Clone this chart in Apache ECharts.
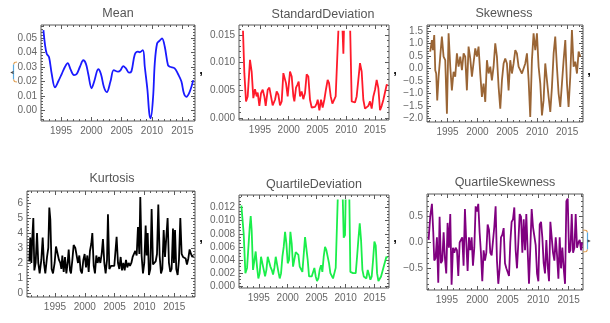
<!DOCTYPE html>
<html><head><meta charset="utf-8">
<script src="https://cdn.jsdelivr.net/npm/echarts@6/dist/echarts.min.js"></script>
<style>html,body{margin:0;padding:0;background:#fff}#c{width:610px;height:323px}</style>
</head><body><div id="c"></div>
<script>
// ---------------- DATA ----------------
const yearTicks = [1995, 2000, 2005, 2010, 2015];

const meanYears = [1992.10,1992.37,1992.64,1993.03,1993.47,1994.01,1994.56,1995.11,1995.66,1996.10,1996.59,1997.14,1997.58,1998.12,1998.67,1999.11,1999.49,2000.04,2000.48,2001.14,2001.58,2002.07,2002.55,2003.16,2003.70,2004.40,2004.80,2005.25,2005.68,2006.23,2006.62,2007.16,2007.65,2007.99,2008.50,2008.81,2009.25,2009.55,2009.78,2010.18,2010.45,2010.84,2011.27,2011.65,2012.10,2012.64,2012.95,2013.74,2014.29,2014.84,2015.27,2015.66,2016.21,2016.80];
const meanValues = [0.0553,0.0450,0.0390,0.0365,0.0250,0.0158,0.0200,0.0250,0.0300,0.0325,0.0280,0.0243,0.0250,0.0300,0.0345,0.0320,0.0250,0.0152,0.0200,0.0283,0.0250,0.0160,0.0125,0.0200,0.0277,0.0266,0.0275,0.0305,0.0290,0.0259,0.0270,0.0385,0.0405,0.0400,0.0415,0.0300,0.0140,-0.0020,-0.0055,0.0090,0.0320,0.0460,0.0480,0.0496,0.0440,0.0310,0.0300,0.0289,0.0250,0.0200,0.0115,0.0093,0.0127,0.0208];

const sdYears = [1992.00,1992.29,1992.58,1992.87,1993.27,1993.56,1993.85,1994.14,1994.43,1994.61,1994.90,1995.19,1995.48,1995.77,1996.00,1996.35,1996.64,1996.92,1997.21,1997.62,1997.91,1998.20,1998.49,1998.78,1999.07,1999.36,1999.53,1999.82,2000.23,2000.52,2000.81,2000.98,2001.27,2001.50,2001.73,2001.97,2002.25,2002.54,2002.83,2003.12,2003.41,2003.70,2003.99,2004.28,2004.57,2004.86,2005.04,2005.33,2005.62,2005.90,2006.19,2006.48,2006.77,2007.01,2007.30,2007.59,2007.87,2008.16,2008.40,2008.80,2009.21,2009.50,2009.70,2010.25,2010.60,2010.95,2011.24,2011.52,2011.81,2012.10,2012.39,2012.68,2012.97,2013.26,2013.55,2013.84,2014.13,2014.42,2014.71,2015.00,2015.29,2015.58,2015.87,2016.16,2016.45,2016.74,2017.03,2017.20];
const sdValues = [0.0175,0.0081,0.0030,0.0039,0.0105,0.0084,0.0036,0.0052,0.0039,0.0046,0.0022,0.0045,0.0051,0.0039,0.0022,0.0051,0.0055,0.0039,0.0023,0.0033,0.0048,0.0042,0.0023,0.0030,0.0081,0.0079,0.0063,0.0039,0.0084,0.0075,0.0039,0.0030,0.0055,0.0060,0.0066,0.0039,0.0048,0.0034,0.0045,0.0079,0.0075,0.0033,0.0019,0.0020,0.0020,0.0026,0.0033,0.0014,0.0033,0.0019,0.0033,0.0052,0.0069,0.0063,0.0039,0.0026,0.0023,0.0039,0.0039,0.0200,0.0200,0.0116,0.0200,0.0200,0.0200,0.0030,0.0030,0.0028,0.0039,0.0069,0.0099,0.0084,0.0033,0.0017,0.0017,0.0022,0.0030,0.0017,0.0039,0.0051,0.0069,0.0054,0.0014,0.0022,0.0033,0.0036,0.0060,0.0060];

const skewYears = [1992.11,1992.39,1992.56,1992.78,1992.95,1993.11,1993.28,1993.51,1993.78,1994.06,1994.34,1994.62,1994.90,1995.18,1995.46,1995.73,1996.01,1996.29,1996.57,1996.85,1997.13,1997.41,1997.69,1997.96,1998.24,1998.52,1998.80,1999.08,1999.36,1999.64,1999.92,2000.19,2000.47,2000.75,2001.03,2001.31,2001.59,2001.87,2002.15,2002.42,2002.70,2002.98,2003.26,2003.54,2003.82,2004.10,2004.38,2004.65,2004.93,2005.21,2005.49,2005.77,2006.05,2006.33,2006.60,2006.88,2007.16,2007.44,2007.72,2008.00,2008.28,2008.56,2008.83,2009.11,2009.39,2009.67,2009.95,2010.23,2010.51,2010.79,2011.06,2011.34,2011.62,2011.90,2012.18,2012.46,2012.74,2013.01,2013.29,2013.57,2013.85,2014.13,2014.41,2014.69,2014.97,2015.24,2015.52,2015.80,2016.08,2016.36,2016.64,2016.92,2017.20];
const skewValues = [0.67,1.13,0.73,1.33,-0.07,-0.20,-1.27,-0.33,0.47,1.27,0.47,0.33,-1.80,1.40,0.07,-0.87,-0.13,-0.33,0.60,0.07,0.47,-0.07,0.60,0.47,-0.87,0.87,0.40,-0.33,-0.33,0.80,0.47,0.87,-0.20,-1.13,-0.60,-1.33,0.33,-0.20,0.07,-0.47,0.07,1.00,0.47,-0.73,-1.60,-0.47,0.20,0.40,0.20,-0.87,0.33,-0.20,0.20,0.73,0.60,0.07,0.13,-0.20,-0.13,0.20,0.60,-0.47,-1.93,0.33,1.40,0.73,1.40,0.07,-0.60,-1.87,-1.27,0.20,0.27,-1.13,-1.73,-0.73,0.60,1.27,0.07,-1.00,-1.53,-0.60,0.33,1.13,-0.60,-1.53,-0.33,1.53,0.07,0.27,-0.20,0.67,0.47];

const kurtYears = [1990.70,1990.86,1991.04,1991.20,1991.37,1991.54,1991.76,1991.99,1992.20,1992.43,1992.71,1992.94,1993.15,1993.38,1993.67,1993.88,1994.05,1994.22,1994.44,1994.67,1994.94,1995.17,1995.44,1995.67,1995.89,1996.07,1996.23,1996.46,1996.68,1996.91,1997.12,1997.30,1997.52,1997.68,1997.91,1998.13,1998.41,1998.63,1998.86,1999.08,1999.30,1999.52,1999.75,1999.97,2000.20,2000.42,2000.65,2000.86,2001.09,2001.26,2001.49,2001.70,2001.93,2002.15,2002.38,2002.60,2002.83,2003.04,2003.27,2003.49,2003.72,2003.88,2004.11,2004.39,2004.67,2004.94,2005.17,2005.33,2005.56,2005.78,2006.01,2006.23,2006.46,2006.68,2006.90,2007.12,2007.35,2007.57,2007.80,2008.02,2008.25,2008.46,2008.69,2008.91,2009.14,2009.30,2009.52,2009.75,2009.97,2010.20,2010.36,2010.54,2010.75,2010.98,2011.20,2011.43,2011.65,2011.88,2012.10,2012.32,2012.54,2012.77,2012.99,2013.22,2013.44,2013.66,2013.88,2014.10,2014.33,2014.55,2014.78,2014.94,2015.12,2015.33,2015.56,2015.78,2016.01,2016.23,2016.46,2016.68,2016.90,2017.12,2017.35,2017.57,2017.80,2018.02,2018.18];
const kurtValues = [2.1,3.7,2.0,3.7,5.0,1.5,2.0,4.0,2.0,1.3,2.2,3.7,2.0,1.3,2.4,3.0,5.7,4.9,1.6,1.3,2.0,3.1,3.0,2.2,2.0,1.6,2.5,1.4,2.4,1.3,2.0,2.9,1.5,1.3,2.2,3.2,3.0,2.5,2.0,2.5,1.5,1.3,2.2,2.6,1.7,2.5,1.4,2.8,3.3,4.0,1.8,1.3,2.5,2.0,2.4,2.0,2.6,3.6,2.0,1.3,2.2,5.25,1.6,1.8,1.7,1.8,1.7,3.75,2.0,1.6,2.4,1.5,2.0,1.5,2.2,1.7,2.0,1.8,2.0,2.4,2.3,2.8,2.5,4.4,2.6,6.4,2.5,1.3,2.0,4.5,2.5,4.0,1.2,1.6,5.6,1.9,2.0,2.1,2.6,5.9,2.5,1.3,1.6,4.2,2.4,2.5,5.0,2.0,1.4,1.6,4.3,2.0,4.2,1.6,1.2,2.2,5.0,2.6,2.4,2.5,2.3,1.9,2.3,2.9,2.6,2.4,2.5];

const qdYears = [1992.00,1992.40,1992.69,1992.98,1993.21,1993.44,1993.61,1993.78,1994.01,1994.24,1994.47,1994.70,1994.93,1995.16,1995.39,1995.62,1995.86,1996.09,1996.32,1996.55,1996.78,1997.01,1997.24,1997.47,1997.70,1997.93,1998.16,1998.39,1998.62,1998.85,1999.08,1999.31,1999.54,1999.77,2000.00,2000.23,2000.46,2000.69,2000.92,2001.15,2001.38,2001.61,2001.84,2002.07,2002.30,2002.53,2002.76,2002.99,2003.22,2003.45,2003.68,2003.91,2004.14,2004.37,2004.60,2004.83,2005.06,2005.29,2005.52,2005.75,2005.98,2006.21,2006.44,2006.67,2006.90,2007.13,2007.36,2007.59,2007.82,2008.05,2008.28,2008.51,2008.86,2009.32,2009.66,2009.89,2010.12,2010.53,2010.81,2011.04,2011.27,2011.51,2011.74,2011.97,2012.20,2012.43,2012.66,2012.89,2013.12,2013.35,2013.58,2013.81,2014.04,2014.27,2014.50,2014.73,2014.96,2015.19,2015.42,2015.65,2015.88,2016.11,2016.34,2016.57,2016.80,2017.03,2017.20];
const qdValues = [0.0123,0.0080,0.0020,0.0028,0.0030,0.0090,0.0107,0.0085,0.0025,0.0028,0.0053,0.0030,0.0012,0.0020,0.0045,0.0048,0.0025,0.0015,0.0025,0.0045,0.0048,0.0030,0.0025,0.0018,0.0028,0.0045,0.0042,0.0022,0.0012,0.0020,0.0045,0.0060,0.0083,0.0065,0.0035,0.0040,0.0083,0.0065,0.0030,0.0028,0.0052,0.0050,0.0048,0.0030,0.0028,0.0022,0.0025,0.0075,0.0075,0.0040,0.0015,0.0018,0.0015,0.0018,0.0028,0.0015,0.0008,0.0012,0.0025,0.0032,0.0022,0.0045,0.0060,0.0055,0.0055,0.0035,0.0020,0.0018,0.0012,0.0012,0.0028,0.0030,0.0200,0.0200,0.0074,0.0078,0.0200,0.0200,0.0022,0.0022,0.0020,0.0022,0.0020,0.0045,0.0072,0.0096,0.0070,0.0025,0.0015,0.0015,0.0012,0.0025,0.0028,0.0010,0.0015,0.0040,0.0068,0.0062,0.0020,0.0008,0.0008,0.0015,0.0018,0.0030,0.0033,0.0045,0.0043];

const qsYears = [1992.00,1992.27,1992.55,1992.77,1992.93,1993.15,1993.37,1993.59,1993.81,1994.03,1994.25,1994.47,1994.68,1994.90,1995.12,1995.34,1995.56,1995.78,1996.00,1996.22,1996.44,1996.66,1996.88,1997.10,1997.32,1997.53,1997.75,1997.97,1998.19,1998.41,1998.63,1998.85,1999.07,1999.29,1999.51,1999.73,1999.95,2000.16,2000.38,2000.60,2000.82,2001.04,2001.26,2001.48,2001.70,2001.92,2002.14,2002.36,2002.58,2002.79,2003.01,2003.23,2003.45,2003.67,2003.89,2004.11,2004.33,2004.55,2004.77,2004.99,2005.21,2005.42,2005.64,2005.86,2006.08,2006.30,2006.52,2006.74,2006.96,2007.18,2007.40,2007.62,2007.84,2008.05,2008.27,2008.49,2008.71,2008.93,2009.15,2009.37,2009.59,2009.81,2010.03,2010.25,2010.47,2010.68,2010.90,2011.12,2011.34,2011.56,2011.78,2012.00,2012.22,2012.44,2012.66,2012.88,2013.10,2013.32,2013.53,2013.75,2013.97,2014.19,2014.41,2014.63,2014.85,2015.07,2015.29,2015.51,2015.73,2015.95,2016.16,2016.38,2016.60,2016.82,2017.04,2017.21];
const qsValues = [0.05,0.50,0.75,0.20,-0.35,-0.30,0.10,-0.78,0.50,-0.40,-0.35,0.20,-0.30,-0.60,0.38,-0.10,0.55,-0.82,-0.10,-0.20,-0.10,-0.15,-0.65,0.00,0.00,0.10,-0.45,0.65,0.00,-0.55,0.10,-0.15,0.10,-0.45,-0.10,0.70,0.60,0.75,0.20,-0.20,-0.75,-0.15,-0.35,-0.20,0.35,0.25,-0.20,-0.25,-0.25,0.30,0.70,-0.35,-0.80,-0.50,0.10,0.15,0.28,-0.40,-0.50,-0.50,-0.65,0.00,0.40,0.45,0.68,-0.15,-0.50,0.00,0.55,0.50,-0.20,0.45,-0.15,0.55,-0.15,-0.80,-0.10,0.65,0.30,0.30,-0.05,-0.60,-0.75,0.35,0.40,0.10,-0.40,-0.60,0.05,-0.45,-0.75,0.40,0.40,-0.20,-0.35,0.10,-0.25,-0.70,0.10,-0.50,-0.10,-0.50,-0.80,0.80,0.85,-0.20,-0.15,0.55,-0.20,-0.10,0.55,-0.10,0.00,0.05,-0.15,0.00];

// ---------------- LAYOUT / STYLE ----------------
const FONT = '"Liberation Sans", Arial, sans-serif';
const FRAME = '#5a5a5a';
const LABEL = '#666666';
const grids = [], xAxes = [], yAxes = [], series = [], graphics = [];

function steps(min, max, step) {
  const out = [];
  for (let k = Math.ceil(min / step - 1e-9); k * step <= max + 1e-12; k++) out.push(+(k * step).toFixed(10));
  return out;
}
function notIn(a, b) { return a.filter(v => !b.some(w => Math.abs(w - v) < 1e-9)); }

function ax(gi, pos, min, max, ticks, len, fmt, isX) {
  return {
    type: 'value', gridIndex: gi, position: pos, min: min, max: max,
    axisLine: { show: false, onZero: false },
    axisTick: { show: true, inside: true, length: len, customValues: ticks, lineStyle: { color: FRAME, width: 1 } },
    axisLabel: fmt ? { show: true, customValues: ticks, formatter: fmt, color: LABEL, fontSize: 10, fontFamily: FONT, margin: isX ? 5 : 4 } : { show: false },
    splitLine: { show: false }, minorTick: { show: false }
  };
}

function addPanel(p) {
  const gi = grids.length;
  grids.push({ left: p.l, top: p.t, width: p.r - p.l, height: p.b - p.t, show: true, borderColor: FRAME, borderWidth: 1, backgroundColor: 'rgba(0,0,0,0)' });
  const xMaj = yearTicks.filter(v => v >= p.x[0] && v <= p.x[1]);
  const xMin = notIn(steps(p.x[0], p.x[1], 1), xMaj);
  const yMaj = steps(p.y[0], p.y[1], p.yStep);
  const yMin = notIn(steps(p.y[0], p.y[1], p.yMinor), yMaj);
  const xi = xAxes.length, yi = yAxes.length;
  xAxes.push(ax(gi, 'bottom', p.x[0], p.x[1], xMaj, 4, v => String(Math.round(v)), true));
  xAxes.push(ax(gi, 'bottom', p.x[0], p.x[1], xMin, 2, null, true));
  xAxes.push(ax(gi, 'top', p.x[0], p.x[1], xMaj, 4, null, true));
  xAxes.push(ax(gi, 'top', p.x[0], p.x[1], xMin, 2, null, true));
  yAxes.push(ax(gi, 'left', p.y[0], p.y[1], yMaj, 4, p.fmt, false));
  yAxes.push(ax(gi, 'left', p.y[0], p.y[1], yMin, 2, null, false));
  yAxes.push(ax(gi, 'right', p.y[0], p.y[1], yMaj, 4, null, false));
  yAxes.push(ax(gi, 'right', p.y[0], p.y[1], yMin, 2, null, false));
  let sx = xi, sy = yi;
  if (p.clip != null) {
    const h = p.b - p.t;
    const topPx = p.b - (p.clip - p.y[0]) / (p.y[1] - p.y[0]) * h;
    const dg = grids.length;
    grids.push({ left: p.l, top: topPx, width: p.r - p.l, height: p.b - topPx, show: false });
    xAxes.push({ type: 'value', gridIndex: dg, min: p.x[0], max: p.x[1], show: false, axisLine: { onZero: false } });
    yAxes.push({ type: 'value', gridIndex: dg, min: p.y[0], max: p.clip, show: false, axisLine: { onZero: false } });
    sx = xAxes.length - 1; sy = yAxes.length - 1;
  }
  series.push({
    type: 'line', xAxisIndex: sx, yAxisIndex: sy, clip: true,
    data: p.xs.map((x, i) => [x, p.ys[i]]),
    showSymbol: false, symbol: 'none', smooth: p.smooth || false,
    lineStyle: { color: p.color, width: 1.8 }, itemStyle: { color: p.color }
  });
  graphics.push({ type: 'text', x: p.tx, y: p.ty, style: { text: p.title, fill: '#555', font: '12.5px ' + FONT, align: 'center', verticalAlign: 'middle' } });
}

const fmtN = d => v => v.toFixed(d).replace('-', '\u2212');

addPanel({ l: 41, t: 25, r: 195, b: 121, x: [1991.70, 2017.09], y: [-0.0074, 0.0588], yStep: 0.01, yMinor: 0.002, fmt: fmtN(2),
  xs: meanYears, ys: meanValues, color: '#1a1aff', smooth: 0.35, title: 'Mean', tx: 118, ty: 14 });
addPanel({ l: 239, t: 25, r: 389, b: 120, x: [1991.36, 2017.43], y: [-0.00036, 0.0168], yStep: 0.005, yMinor: 0.001, fmt: fmtN(3), clip: 0.0156,
  xs: sdYears, ys: sdValues, color: '#ff1a2a', title: 'StandardDeviation', tx: 323, ty: 15 });
addPanel({ l: 427, t: 25, r: 583, b: 122, x: [1991.57, 2017.65], y: [-2.13, 1.73], yStep: 0.5, yMinor: 0.1, fmt: fmtN(1),
  xs: skewYears, ys: skewValues, color: '#9a6535', title: 'Skewness', tx: 504, ty: 14 });
addPanel({ l: 27, t: 191, r: 195, b: 297, x: [1990.31, 2018.47], y: [-0.27, 6.8], yStep: 1, yMinor: 0.2, fmt: fmtN(0),
  xs: kurtYears, ys: kurtValues, color: '#000000', title: 'Kurtosis', tx: 112, ty: 179 });
addPanel({ l: 239, t: 195, r: 389, b: 288, x: [1991.59, 2017.48], y: [-0.00026, 0.0139], yStep: 0.002, yMinor: 0.0005, fmt: fmtN(3), clip: 0.01306,
  xs: qdYears, ys: qdValues, color: '#1aee4a', title: 'QuartileDeviation', tx: 314, ty: 185 });
addPanel({ l: 427, t: 194, r: 583, b: 290, x: [1991.74, 2017.36], y: [-0.92, 0.94], yStep: 0.5, yMinor: 0.1, fmt: fmtN(1),
  xs: qsYears, ys: qsValues, color: '#800080', title: 'QuartileSkewness', tx: 505, ty: 183 });

// list punctuation (commas) and braces
[[201, 70], [395, 70], [589, 71], [201, 238], [395, 238]].forEach(c => {
  graphics.push({ type: 'text', x: c[0], y: c[1], style: { text: ',', fill: '#111', font: 'bold 13px ' + FONT, align: 'center', verticalAlign: 'middle' } });
});
const ORANGE = '#e0a055', BLUE = '#58a8e0';
// left brace
graphics.push({ type: 'polyline', shape: { points: [[17, 62], [14.5, 62.5], [13.5, 64.5]] }, style: { stroke: ORANGE, fill: null, lineWidth: 1.2 } });
graphics.push({ type: 'polyline', shape: { points: [[13.5, 64.5], [13.5, 79.5]] }, style: { stroke: BLUE, fill: null, lineWidth: 1.2 } });
graphics.push({ type: 'polyline', shape: { points: [[13.5, 79.5], [14.5, 81.5], [17, 82]] }, style: { stroke: ORANGE, fill: null, lineWidth: 1.2 } });
graphics.push({ type: 'polyline', shape: { points: [[13.5, 71.5], [11.5, 72.5], [13.5, 73.5]] }, style: { stroke: '#444', fill: null, lineWidth: 1.1 } });
// right brace
graphics.push({ type: 'polyline', shape: { points: [[583, 230], [586.5, 230.5], [587.5, 232.5]] }, style: { stroke: ORANGE, fill: null, lineWidth: 1.2 } });
graphics.push({ type: 'polyline', shape: { points: [[587.5, 232.5], [587.5, 249.5]] }, style: { stroke: BLUE, fill: null, lineWidth: 1.2 } });
graphics.push({ type: 'polyline', shape: { points: [[587.5, 249.5], [586.5, 251.5], [583, 252]] }, style: { stroke: ORANGE, fill: null, lineWidth: 1.2 } });
graphics.push({ type: 'polyline', shape: { points: [[587.5, 240], [589.5, 241], [587.5, 242]] }, style: { stroke: '#444', fill: null, lineWidth: 1.1 } });

const chart = echarts.init(document.getElementById('c'), null, { renderer: 'canvas' });
chart.setOption({
  animation: false,
  backgroundColor: '#ffffff',
  grid: grids, xAxis: xAxes, yAxis: yAxes, series: series,
  graphic: { elements: graphics }
});
</script>
</body></html>
